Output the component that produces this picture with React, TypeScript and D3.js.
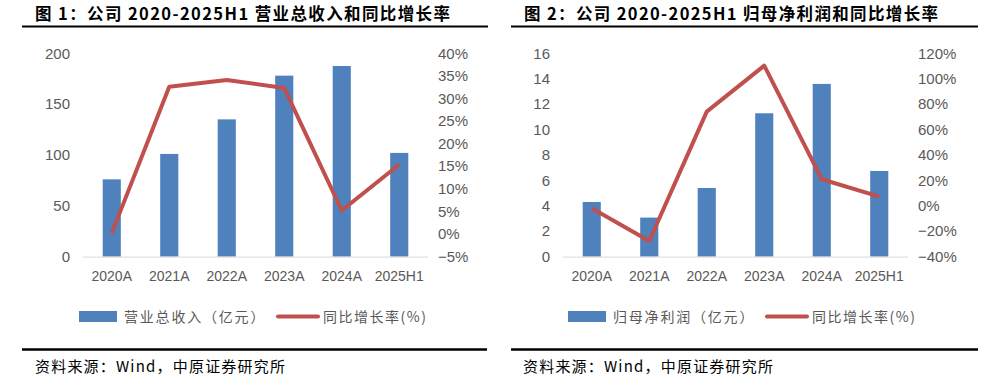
import React from "react";
import * as d3 from "d3";

const categories = ["2020A", "2021A", "2022A", "2023A", "2024A", "2025H1"];
const revenue = [76, 101, 135, 178, 187.5, 102];
const revenueGrowth = [0.2, 32.6, 34.1, 32.3, 5.2, 15.4];
const profit = [4.3, 3.07, 5.4, 11.28, 13.59, 6.74];
const profitGrowth = [-1.9, -27.7, 74.1, 110.3, 20.9, 7.2];

const leftTicks1 = [0, 50, 100, 150, 200];
const rightTicks1 = [-5, 0, 5, 10, 15, 20, 25, 30, 35, 40];
const leftTicks2 = [0, 2, 4, 6, 8, 10, 12, 14, 16];
const rightTicks2 = [-40, -20, 0, 20, 40, 60, 80, 100, 120];

const BAR = "#4F81BD";
const LINE = "#C0504D";
const GRAY = "#595959";
const CJK = "'Noto Sans CJK SC', 'Liberation Sans', sans-serif";
const NUM = "'Liberation Sans', Arial, sans-serif";

type PanelProps = {
  title: string;
  barLabel: string;
  bars: number[];
  line: number[];
  lTicks: number[];
  rTicks: number[];
  plotL: number;
  plotR: number;
  swatchX: number;
  lineLegX: number;
  titleX: number;
  titleW: number;
  ruleX1: number;
  ruleX2: number;
  srcRuleX1: number;
  srcRuleX2: number;
  srcX: number;
};

function Panel(p: PanelProps) {
  const top = 53.3;
  const bottom = 256.6;
  const x = d3.scaleBand<string>().domain(categories).range([p.plotL, p.plotR]).padding(0);
  const yL = d3.scaleLinear().domain([p.lTicks[0], p.lTicks[p.lTicks.length - 1]]).range([bottom, top]);
  const yR = d3.scaleLinear().domain([p.rTicks[0], p.rTicks[p.rTicks.length - 1]]).range([bottom, top]);
  const bw = x.step() * 0.315;
  const lineGen = d3
    .line<number>()
    .x((_, i) => (x(categories[i]) as number) + x.bandwidth() / 2)
    .y((d) => yR(d));
  return (
    <g>
      <text
        x={p.titleX}
        y={19.5}
        fontFamily={CJK}
        fontWeight="bold"
        fontSize={16.5}
        fill="#000"
        textLength={p.titleW}
        lengthAdjust="spacing"
      >
        {p.title}
      </text>
      <line x1={p.ruleX1} x2={p.ruleX2} y1={26.5} y2={26.5} stroke="#000" strokeWidth={2} />
      {p.lTicks.map((t) => (
        <text key={"l" + t} x={p.plotL - 13} y={yL(t)} dy="0.35em" textAnchor="end" fontFamily={NUM} fontSize={15} fill={GRAY}>
          {t}
        </text>
      ))}
      {p.rTicks.map((t) => (
        <text key={"r" + t} x={p.plotR + 10} y={yR(t)} dy="0.35em" textAnchor="start" fontFamily={NUM} fontSize={15} fill={GRAY}>
          {(t < 0 ? "\u2212" + Math.abs(t) : t) + "%"}
        </text>
      ))}
      {p.bars.map((v, i) => (
        <rect
          key={"b" + i}
          x={(x(categories[i]) as number) + x.bandwidth() / 2 - bw / 2}
          y={yL(v)}
          width={bw}
          height={yL(0) - yL(v)}
          fill={BAR}
        />
      ))}
      <line x1={p.plotL} x2={p.plotR} y1={bottom + 0.5} y2={bottom + 0.5} stroke="#D9D9D9" strokeWidth={1} />
      {categories.map((c) => (
        <text key={"c" + c} x={(x(c) as number) + x.bandwidth() / 2} y={276} dy="0.35em" textAnchor="middle" fontFamily={NUM} fontSize={14} fill={GRAY}>
          {c}
        </text>
      ))}
      <path d={lineGen(p.line) || ""} fill="none" stroke={LINE} strokeWidth={4} strokeLinejoin="round" />
      <rect x={p.swatchX} y={311} width={38} height={11} fill={BAR} />
      <text x={p.swatchX + 45} y={317} dy="0.35em" fontFamily={CJK} fontSize={14} fill={GRAY} letterSpacing={1.8}>
        {p.barLabel}
      </text>
      <line x1={p.lineLegX} x2={p.lineLegX + 40} y1={316.5} y2={316.5} stroke={LINE} strokeWidth={4} strokeLinecap="round" />
      <text x={p.lineLegX + 45} y={317} dy="0.35em" fontFamily={CJK} fontSize={14} fill={GRAY} letterSpacing={1.5}>
        同比增长率(%)
      </text>
      <line x1={p.srcRuleX1} x2={p.srcRuleX2} y1={349.5} y2={349.5} stroke="#000" strokeWidth={2.5} />
      <text x={p.srcX} y={372} fontFamily={CJK} fontSize={15} fill="#000" letterSpacing={1.2}>
        资料来源：Wind，中原证券研究所
      </text>
    </g>
  );
}

export default function App() {
  return (
    <svg width={992} height={380} style={{ position: "absolute", left: 0, top: 0, background: "#fff" }}>
      <rect width={992} height={380} fill="#fff" />
      <Panel
        title="图 1：公司 2020-2025H1 营业总收入和同比增长率"
        barLabel="营业总收入（亿元）"
        bars={revenue}
        line={revenueGrowth}
        lTicks={leftTicks1}
        rTicks={rightTicks1}
        plotL={83}
        plotR={428}
        swatchX={79}
        lineLegX={278}
        titleX={35}
        titleW={415}
        ruleX1={22}
        ruleX2={488}
        srcRuleX1={22}
        srcRuleX2={487}
        srcX={35}
      />
      <Panel
        title="图 2：公司 2020-2025H1 归母净利润和同比增长率"
        barLabel="归母净利润（亿元）"
        bars={profit}
        line={profitGrowth}
        lTicks={leftTicks2}
        rTicks={rightTicks2}
        plotL={563}
        plotR={908}
        swatchX={568}
        lineLegX={767}
        titleX={524}
        titleW={414}
        ruleX1={511}
        ruleX2={978}
        srcRuleX1={511}
        srcRuleX2={978}
        srcX={523}
      />
    </svg>
  );
}
